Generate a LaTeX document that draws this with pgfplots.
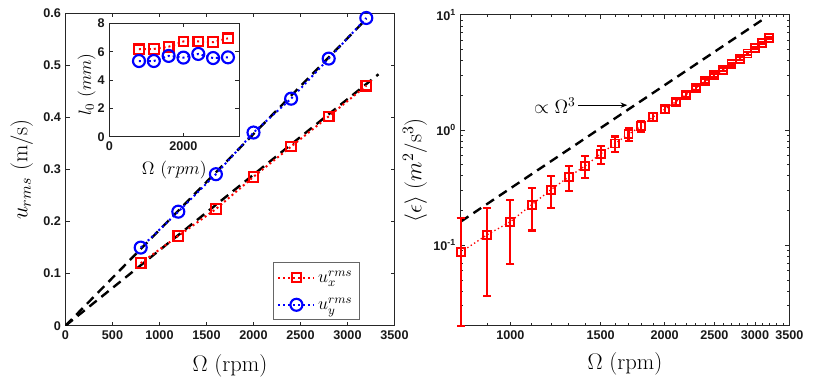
\RequirePackage{fix-cm}
\documentclass[border=0pt]{standalone}
\usepackage{pgfplots}
\pgfplotsset{compat=1.18}
\usetikzlibrary{arrows.meta}
\usepackage{fontspec}
\newfontfamily\ticksf{Liberation Sans}
\newcommand\tickfont{\ticksf\bfseries\fontsize{9.5}{11}\selectfont}
\newcommand\labfont{\fontsize{17}{20}\selectfont}
\newcommand\smallfont{\fontsize{13.5}{15}\selectfont}

\pgfplotsset{
  matax/.style={
    scale only axis,
    axis line style={black!85, line width=0.5bp},
    tick style={black!85, line width=0.5bp},
    major tick length=3bp, minor tick length=2bp,
    tick align=inside,
    tick label style={font=\tickfont, text=black!90},
    label style={font=\labfont},
    /pgf/number format/assume math mode=true,
  },
  xdots/.style={red, line width=1.5bp, dash pattern=on 1.5bp off 2.2bp,
    mark=square, mark size=3.6bp, mark options={solid, line width=1.6bp}},
  ydots/.style={blue, line width=1.5bp, dash pattern=on 1.5bp off 2.2bp,
    mark=o, mark size=4.5bp, mark options={solid, line width=1.6bp}},
  fitline/.style={black, line width=1.8bp, dash pattern=on 7bp off 4.5bp, forget plot},
}

\begin{document}
\begin{tikzpicture}
\path[use as bounding box] (0,0) rectangle (622.5bp,288bp);

% left: rms velocity
\begin{axis}[matax,
    at={(49.125bp,43.725bp)}, anchor=south west,
    width=246.75bp, height=234.3bp,
    xmin=0, xmax=3500, ymin=0, ymax=0.6,
    xtick={0,500,1000,1500,2000,2500,3000,3500},
    xticklabels={0,500,1000,1500,2000,2500,3000,3500},
    ytick={0,0.1,0.2,0.3,0.4,0.5,0.6},
    yticklabels={0,0.1,0.2,0.3,0.4,0.5,0.6},
    xlabel={$\Omega$ (rpm)}, ylabel={$u_{rms}$ (m/s)},
    xlabel style={at={(axis description cs:0.5,-0.129)}, anchor=center},
    ylabel style={at={(axis description cs:-0.133,0.5)}, anchor=center},
    legend style={at={(0.893,0.018)}, anchor=south east, draw=black!60,
      line width=0.5bp, font=\smallfont, cells={anchor=west},
      row sep=6bp, inner xsep=3bp, inner ysep=4bp},
    legend image code/.code={\draw[mark repeat=2, mark phase=2, #1]
      plot coordinates {(0bp,0bp) (13.5bp,0bp) (27bp,0bp)};},
]
\addplot[fitline] coordinates {(0,0) (3200,0.589)};
\addplot[fitline] coordinates {(0,0) (3330,0.483)};
\addplot[xdots] coordinates {
  (800,0.120) (1200,0.1725) (1600,0.224) (2000,0.286)
  (2400,0.344) (2800,0.402) (3200,0.461)};
\addplot[ydots] coordinates {
  (800,0.150) (1200,0.219) (1600,0.291) (2000,0.371)
  (2400,0.436) (2800,0.513) (3200,0.591)};
\legend{$u_x^{rms}$, $u_y^{rms}$}
\end{axis}

% inset: l_0
\begin{axis}[matax,
    at={(82bp,185.5bp)}, anchor=south west,
    width=97.3bp, height=85bp,
    axis background/.style={fill=white},
    xmin=0, xmax=3500, ymin=0, ymax=8,
    xtick={0,2000}, xticklabels={0,2000},
    ytick={0,2,4,6,8}, yticklabels={0,2,4,6,8},
    label style={font=\smallfont},
    xlabel={$\Omega\ (rpm)$}, ylabel={$l_0\ (mm)$},
    xlabel style={at={(axis description cs:0.5,-0.294)}, anchor=center},
    ylabel style={at={(axis description cs:-0.174,0.46)}, anchor=center},
]
\addplot[xdots] coordinates {
  (800,6.17) (1200,6.19) (1600,6.35) (2000,6.72)
  (2400,6.72) (2800,6.67) (3200,6.94)};
\addplot[ydots] coordinates {
  (800,5.34) (1200,5.34) (1600,5.70) (2000,5.58)
  (2400,5.84) (2800,5.55) (3200,5.60)};
\end{axis}

% right: dissipation
\begin{axis}[matax,
    xmode=log, ymode=log,
    at={(345.5bp,43.725bp)}, anchor=south west,
    width=246.45bp, height=233.25bp,
    xmin=800, xmax=3500, ymin=0.02, ymax=10,
    xtick={1000,1500,2000,2500,3000,3500},
    xticklabels={1000,1500,2000,2500,3000,3500},
    minor xtick={800,900,1100,1200,1300,1400,1600,1700,1800,1900,2100,2200,
      2300,2400,2600,2700,2800,2900,3100,3200,3300,3400},
    ytick={0.1,1,10},
    yticklabels={10\textsuperscript{-1},10\textsuperscript{0},10\textsuperscript{1}},
    minor ytick={0.02,0.03,0.04,0.05,0.06,0.07,0.08,0.09,
      0.2,0.3,0.4,0.5,0.6,0.7,0.8,0.9,2,3,4,5,6,7,8,9},
    xlabel={$\Omega$ (rpm)},
    ylabel={$\langle\epsilon\rangle$ $(m^2/\mathrm{s}^3)$},
    xlabel style={at={(axis description cs:0.5,-0.123)}, anchor=center},
    ylabel style={at={(axis description cs:-0.139,0.5)}, anchor=center},
    clip=false,
]
\addplot[fitline] coordinates {(800,0.160) (3120,9.2)};
\addplot[red, line width=1bp, dash pattern=on 1bp off 2bp,
    mark=square, mark size=3bp, mark options={solid, line width=1.4bp},
    error bars/.cd, y dir=both, y explicit,
    error mark=-,
    error bar style={red, solid, line width=1.6bp},
    error mark options={red, solid, rotate=90, line width=1.6bp, mark size=3bp}]
  coordinates {
  (800,0.0868)  += (0,0.085) -= (0,0.0668)
  (900,0.1226)  += (0,0.086) -= (0,0.0863)
  (1000,0.160)  += (0,0.086) -= (0,0.091)
  (1100,0.224)  += (0,0.089) -= (0,0.090)
  (1200,0.303)  += (0,0.092) -= (0,0.094)
  (1300,0.392)  += (0,0.096) -= (0,0.099)
  (1400,0.488)  += (0,0.108) -= (0,0.106)
  (1500,0.620)  += (0,0.102) -= (0,0.112)
  (1600,0.762)  += (0,0.115) -= (0,0.117)
  (1700,0.918)  += (0,0.112) -= (0,0.115)
  (1800,1.08)   += (0,0.11) -= (0,0.11)
  (1900,1.30)   += (0,0.11) -= (0,0.11)
  (2000,1.51)   += (0,0.11) -= (0,0.11)
  (2100,1.75)   += (0,0.11) -= (0,0.11)
  (2200,2.02)   += (0,0.11) -= (0,0.11)
  (2300,2.31)   += (0,0.11) -= (0,0.11)
  (2400,2.64)   += (0,0.11) -= (0,0.11)
  (2500,2.98)   += (0,0.11) -= (0,0.11)
  (2600,3.33)   += (0,0.11) -= (0,0.11)
  (2700,3.73)   += (0,0.11) -= (0,0.11)
  (2800,4.15)   += (0,0.11) -= (0,0.11)
  (2900,4.61)   += (0,0.11) -= (0,0.11)
  (3000,5.13)   += (0,0.11) -= (0,0.11)
  (3100,5.71)   += (0,0.11) -= (0,0.11)
  (3200,6.31)   += (0,0.11) -= (0,0.11)
  };
\node[anchor=east, font=\fontsize{14.5}{16}\selectfont, inner sep=1bp]
  at (axis cs:1350,1.64) {$\propto\Omega^3$};
\draw[-{Stealth[length=5bp,width=4bp]}, line width=0.5bp]
  (axis cs:1355,1.64) -- (axis cs:1690,1.64);
\end{axis}
\end{tikzpicture}
\end{document}
